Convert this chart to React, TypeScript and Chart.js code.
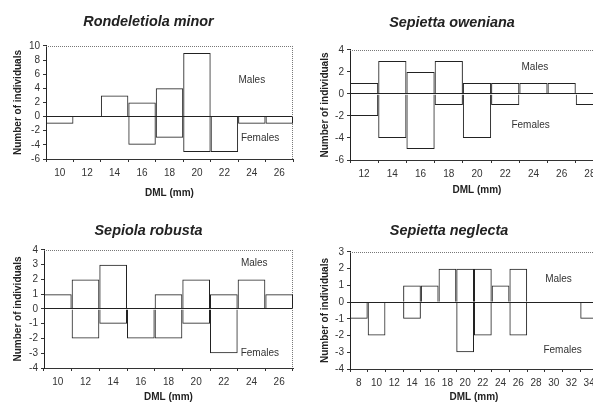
import React, { useEffect, useRef } from "react";
import { Chart, registerables } from "chart.js";

Chart.register(...registerables);

// ---------- Data ----------
const rmCategories = ["10", "12", "14", "16", "18", "20", "22", "24", "26"];
const rmMales = [0, 0, 3, 2, 4, 9, 0, 0, 0];
const rmFemales = [-1, 0, 0, -4, -3, -5, -5, -1, -1];
const rmYRange = [-6, 10, 2];

const soCategories = ["12", "14", "16", "18", "20", "22", "24", "26", "28"];
const soMales = [1, 3, 2, 3, 1, 1, 1, 1, 0];
const soFemales = [-2, -4, -5, -1, -4, -1, 0, 0, -1];
const soYRange = [-6, 4, 2];

const srCategories = ["10", "12", "14", "16", "18", "20", "22", "24", "26"];
const srMales = [1, 2, 3, 0, 1, 2, 1, 2, 1];
const srFemales = [0, -2, -1, -2, -2, -1, -3, 0, 0];
const srYRange = [-4, 4, 1];

const snCategories = ["8", "10", "12", "14", "16", "18", "20", "22", "24", "26", "28", "30", "32", "34"];
const snMales = [0, 0, 0, 1, 1, 2, 2, 2, 1, 2, 0, 0, 0, 0];
const snFemales = [-1, -2, 0, -1, 0, 0, -3, -2, 0, -2, 0, 0, 0, -1];
const snYRange = [-4, 3, 1];

const seriesNames = ["Males", "Females"];
const titles = ["Rondeletiola minor", "Sepietta oweniana", "Sepiola robusta", "Sepietta neglecta"];
const xTitle = "DML (mm)";
const yTitle = "Number of individuals";

// text label anchors (category index, value)
const rmTextPos = [[7.0, 5.2], [7.3, -3.0]];
const soTextPos = [[6.05, 2.4], [5.9, -2.8]];
const srTextPos = [[7.1, 3.1], [7.3, -3.0]];
const snTextPos = [[11.27, 1.38], [11.5, -2.9]];

// ---------- Layout (styles) ----------
type Layout = {
  left: number; top: number; width: number; height: number;
  yAxisW: number; xAxisH: number; padRight: number;
  tTop: number; tBottom: number; yTitlePad: number; xTitlePad: number;
};

const FONT = "'Liberation Sans', Arial, sans-serif";
const TITLE_SIZE = 14.4;

const panels = [
  {
    title: titles[0], cats: rmCategories, males: rmMales, females: rmFemales, yr: rmYRange, tp: rmTextPos,
    lay: { left: 4, top: 0, width: 297, height: 205, yAxisW: 42, xAxisH: 46, padRight: 8, tTop: 13.65, tBottom: 15.05, yTitlePad: 8, xTitlePad: 6 } as Layout,
  },
  {
    title: titles[1], cats: soCategories, males: soMales, females: soFemales, yr: soYRange, tp: soTextPos,
    lay: { left: 300, top: 0, width: 312, height: 202, yAxisW: 50, xAxisH: 42, padRight: 8, tTop: 14.05, tBottom: 18.65, yTitlePad: 19, xTitlePad: 6 } as Layout,
  },
  {
    title: titles[2], cats: srCategories, males: srMales, females: srFemales, yr: srYRange, tp: srTextPos,
    lay: { left: 4, top: 210, width: 297, height: 193, yAxisW: 40, xAxisH: 35, padRight: 8, tTop: 12.35, tBottom: 10.35, yTitlePad: 8, xTitlePad: 0 } as Layout,
  },
  {
    title: titles[3], cats: snCategories, males: snMales, females: snFemales, yr: snYRange, tp: snTextPos,
    lay: { left: 300, top: 210, width: 310, height: 193, yAxisW: 50, xAxisH: 34, padRight: 12, tTop: 12.35, tBottom: 12.35, yTitlePad: 19, xTitlePad: 0 } as Layout,
  },
];

// zero counts are drawn as no bar
const toBars = (arr: number[]) => arr.map((v) => (v === 0 ? null : v));

function Panel(props: { p: (typeof panels)[number] }) {
  const ref = useRef<HTMLCanvasElement | null>(null);
  const { p } = props;
  const lay = p.lay;

  useEffect(() => {
    if (!ref.current) return;

    const framePlugin = {
      id: "frame",
      beforeDatasetsDraw(chart: any) {
        const { ctx, chartArea } = chart;
        const { left, right, top, bottom } = chartArea;
        ctx.save();
        ctx.strokeStyle = "#777";
        ctx.lineWidth = 1;
        ctx.setLineDash([1, 1]);
        ctx.beginPath();
        ctx.moveTo(left, Math.round(top) + 0.5);
        ctx.lineTo(right, Math.round(top) + 0.5);
        ctx.moveTo(Math.round(right) - 0.5, top);
        ctx.lineTo(Math.round(right) - 0.5, bottom);
        ctx.stroke();
        ctx.restore();
      },
    };

    const textPlugin = {
      id: "sexText",
      afterDatasetsDraw(chart: any) {
        const { ctx } = chart;
        const x = chart.scales.x;
        const y = chart.scales.y;
        ctx.save();
        ctx.font = `10px ${FONT}`;
        ctx.fillStyle = "#333";
        ctx.textAlign = "center";
        ctx.textBaseline = "middle";
        p.tp.forEach((pos, i) => {
          ctx.fillText(seriesNames[i], x.getPixelForValue(pos[0]), y.getPixelForValue(pos[1]));
        });
        ctx.restore();
      },
    };

    const barStyle = {
      backgroundColor: "rgba(255,255,255,0)",
      borderColor: "#222",
      borderWidth: 1,
      borderSkipped: "start",
      barPercentage: 1,
      categoryPercentage: 1,
      inflateAmount: 0,
      stack: "s",
    };

    const chart = new Chart(ref.current, {
      type: "bar",
      data: {
        labels: p.cats,
        datasets: [
          { label: seriesNames[0], data: toBars(p.males), ...barStyle } as any,
          { label: seriesNames[1], data: toBars(p.females), ...barStyle } as any,
        ],
      },
      options: {
        responsive: false,
        animation: false,
        devicePixelRatio: 1,
        layout: { padding: { left: 0, top: 0, bottom: 0, right: lay.padRight } },
        plugins: {
          legend: { display: false },
          tooltip: { enabled: false },
          title: {
            display: true,
            text: p.title,
            color: "#222",
            font: { family: FONT, size: TITLE_SIZE, weight: "bold", style: "italic" },
            padding: { top: lay.tTop, bottom: lay.tBottom },
          },
        },
        scales: {
          x: {
            stacked: true,
            offset: true,
            afterFit: (s: any) => { s.height = lay.xAxisH; },
            grid: { offset: true, drawOnChartArea: false, drawTicks: true, tickLength: 3, tickColor: "#333", color: "#333" },
            border: { display: true, color: "#333", width: 1 },
            ticks: { color: "#333", font: { family: FONT, size: 10 }, padding: 5, maxRotation: 0, autoSkip: false },
            title: {
              display: true, text: xTitle, color: "#222",
              font: { family: FONT, size: 10, weight: "bold" },
              padding: { top: 0, bottom: lay.xTitlePad },
            },
          },
          y: {
            stacked: true,
            min: p.yr[0],
            max: p.yr[1],
            afterFit: (s: any) => { s.width = lay.yAxisW; },
            grid: {
              drawOnChartArea: true,
              drawTicks: true,
              tickLength: 3,
              tickColor: "#333",
              color: (c: any) => (c.tick && c.tick.value === 0 ? "#222" : "rgba(0,0,0,0)"),
            },
            border: { display: true, color: "#222", width: 1 },
            ticks: {
              stepSize: p.yr[2],
              autoSkip: false,
              color: "#333",
              font: { family: FONT, size: 10 },
              padding: 3,
              callback: (v: any) => String(v),
            },
            title: {
              display: true, text: yTitle, color: "#222",
              font: { family: FONT, size: 10, weight: "bold" },
              padding: { top: lay.yTitlePad, bottom: 0 },
            },
          },
        },
      } as any,
      plugins: [framePlugin, textPlugin],
    });

    return () => chart.destroy();
  }, []);

  return (
    <canvas
      ref={ref}
      width={lay.width}
      height={lay.height}
      style={{ position: "absolute", left: lay.left, top: lay.top, width: lay.width, height: lay.height }}
    />
  );
}

export default function App() {
  return (
    <div
      style={{
        position: "fixed",
        left: 0,
        top: 0,
        width: 593,
        height: 403,
        overflow: "hidden",
        background: "#fff",
      }}
    >
      {panels.map((p, i) => (
        <Panel key={i} p={p} />
      ))}
    </div>
  );
}
